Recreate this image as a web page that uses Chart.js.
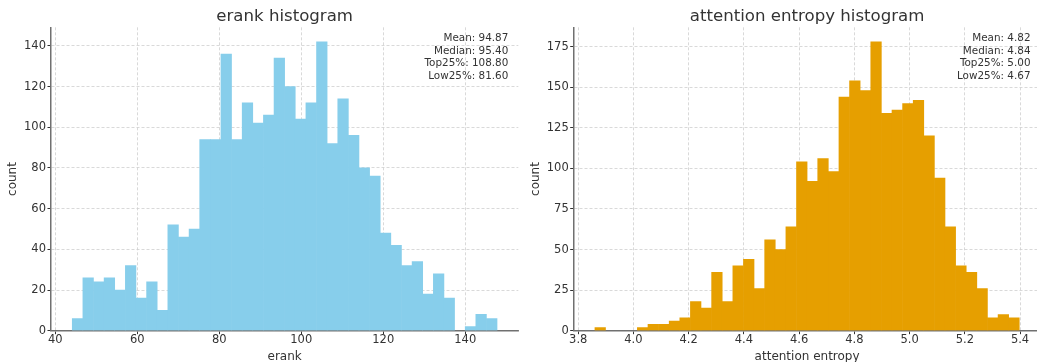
<!DOCTYPE html>
<html><head><meta charset="utf-8">
<script src="https://cdn.jsdelivr.net/npm/chart.js@4.4.1/dist/chart.umd.min.js"></script>
<style>
html,body{margin:0;padding:0;background:#fff;overflow:hidden;width:1037px;height:362px;}
#c1{position:absolute;left:0;top:0;}
#c2{position:absolute;left:520px;top:0;}
</style></head><body>
<canvas id="c1" width="520" height="362"></canvas>
<canvas id="c2" width="530" height="362"></canvas>
<script>
// ---- erank histogram data ----
const erankCounts = [6,26,24,26,20,32,16,24,10,52,46,50,94,94,136,94,112,102,106,134,120,104,112,142,92,114,96,80,76,48,42,32,34,18,28,16,0,2,8,6];
const erankRange = [44.15, 147.75];
const erankXTicks = [40,60,80,100,120,140];
const erankXTickLabels = ['40','60','80','100','120','140'];
const erankYTicks = [0,20,40,60,80,100,120,140];
const erankYTickLabels = ['0','20','40','60','80','100','120','140'];
const erankStats = ['Mean: 94.87','Median: 95.40','Top25%: 108.80','Low25%: 81.60'];

// ---- attention entropy histogram data ----
const entropyCounts = [2,0,0,0,2,4,4,6,8,18,14,36,18,40,44,26,56,50,64,104,92,106,98,144,154,148,178,134,136,140,142,120,94,64,40,36,26,8,10,8];
const entropyRange = [3.8605, 5.3973];
const entropyXTicks = [3.8,4.0,4.2,4.4,4.6,4.8,5.0,5.2,5.4];
const entropyXTickLabels = ['3.8','4.0','4.2','4.4','4.6','4.8','5.0','5.2','5.4'];
const entropyYTicks = [0,25,50,75,100,125,150,175];
const entropyYTickLabels = ['0','25','50','75','100','125','150','175'];
const entropyStats = ['Mean: 4.82','Median: 4.84','Top25%: 5.00','Low25%: 4.67'];

const FONT = 'DejaVu Sans';
const TEXT = '#333333';

const statsPlugin = {
  id: 'stats',
  afterDraw(chart, args, opts) {
    const ctx = chart.ctx, a = chart.chartArea;
    ctx.save();
    ctx.font = '10.4px "' + FONT + '"';
    ctx.fillStyle = TEXT;
    ctx.textAlign = 'right';
    ctx.textBaseline = 'alphabetic';
    opts.lines.forEach((t, i) => ctx.fillText(t, a.right - 10, a.top + 13.8 + i * 12.55));
    ctx.restore();
  }
};

function makeHist(id, cfg) {
  const n = cfg.counts.length;
  const span = cfg.range[1] - cfg.range[0];
  const bw = span / n;
  const pts = cfg.counts.map((c, i) => ({x: cfg.range[0] + (i + 0.5) * bw, y: c}));
  const xMin = cfg.range[0] - 0.05 * span, xMax = cfg.range[1] + 0.05 * span;
  const yMax = Math.max(...cfg.counts) * 1.05;
  const grid = {color: '#cfcfcf', lineWidth: 0.8, tickColor: '#333', tickLength: 3.5, tickWidth: 1, drawTicks: true, offset: false};
  const border = {display: true, color: '#707070', width: 1.5, dash: [3, 2]};
  new Chart(document.getElementById(id), {
    type: 'bar',
    data: {datasets: [{data: pts, backgroundColor: cfg.color, borderWidth: 0,
      inflateAmount: c => (c.raw && c.raw.y > 0 ? 0.3 : 0), barPercentage: 1, categoryPercentage: 1}]},
    options: {
      responsive: false, animation: false,
      layout: {padding: {left: 0, right: cfg.padRight, top: 0, bottom: 0}},
      plugins: {
        legend: {display: false}, tooltip: {enabled: false},
        title: {display: true, text: cfg.title, fullSize: false, color: TEXT,
          font: {family: FONT, size: 16.6, weight: 'normal', lineHeight: 1.2}, padding: {top: 6.6, bottom: 0.8}},
        stats: {lines: cfg.stats}
      },
      scales: {
        x: {type: 'linear', min: xMin, max: xMax, offset: false, z: 1,
          afterBuildTicks: s => { s.ticks = cfg.xTicks.map(v => ({value: v})); },
          afterFit: s => { s.height = 31.3; },
          grid: grid, border: border,
          ticks: {font: {family: FONT, size: 11.5, lineHeight: 1}, color: TEXT, padding: 0, maxRotation: 0, autoSkip: false,
            callback: (v, i) => cfg.xTickLabels[i]},
          title: {display: true, text: cfg.xTitle, color: TEXT, font: {family: FONT, size: 12, lineHeight: 0.9}, padding: 0}
        },
        y: {min: 0, max: yMax, z: 1,
          afterBuildTicks: s => { s.ticks = cfg.yTicks.map(v => ({value: v})); },
          afterFit: s => { s.width = cfg.yAxisWidth; },
          grid: grid, border: border,
          ticks: {font: {family: FONT, size: 11.5, lineHeight: 1.2}, color: TEXT, padding: 1.5,
            callback: (v, i) => cfg.yTickLabels[i]},
          title: {display: true, text: 'count', color: TEXT, font: {family: FONT, size: 12, lineHeight: 1.2}, padding: {top: cfg.yTitlePad, bottom: 0}}
        }
      }
    },
    plugins: [statsPlugin]
  });
}

makeHist('c1', {counts: erankCounts, range: erankRange, xTicks: erankXTicks, xTickLabels: erankXTickLabels,
  yTicks: erankYTicks, yTickLabels: erankYTickLabels, stats: erankStats, color: '#87CEEB',
  title: 'erank histogram', xTitle: 'erank', padRight: 1.7, yAxisWidth: 51, yTitlePad: 5.8});
makeHist('c2', {counts: entropyCounts, range: entropyRange, xTicks: entropyXTicks, xTickLabels: entropyXTickLabels,
  yTicks: entropyYTicks, yTickLabels: entropyYTickLabels, stats: entropyStats, color: '#E69F00',
  title: 'attention entropy histogram', xTitle: 'attention entropy', padRight: 9.5, yAxisWidth: 53.7, yTitlePad: 8.8});
</script>
</body></html>
